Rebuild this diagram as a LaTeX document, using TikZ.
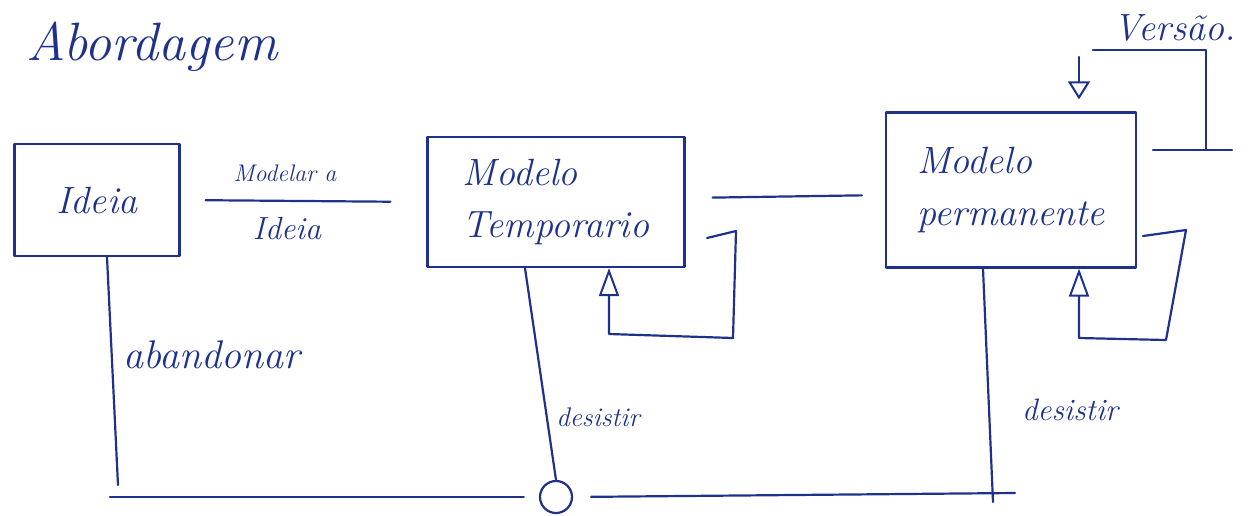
\documentclass[tikz,border=0pt]{standalone}
\usetikzlibrary{arrows.meta}
\definecolor{ink}{RGB}{30,50,140}
\begin{document}
\begin{tikzpicture}[x=1pt,y=-1pt,
  inkline/.style={draw=ink, line width=2.2pt, line cap=round, line join=round},
  box/.style={inkline, rectangle, inner sep=0pt, align=left, text=ink, font=\itshape\fontsize{38}{52}\selectfont},
  lbl/.style={text=ink, inner sep=0pt},
  tipup/.style={-{Triangle[open,length=28pt,width=20pt,line width=2pt]}},
  tipdown/.style={-{Triangle[open,length=18pt,width=22pt,line width=2pt]}}
]
\useasboundingbox (0,0) rectangle (1251,515);

% title
\node[lbl, font=\itshape\fontsize{54}{60}\selectfont] (title) at (152,47) {Abordagem};

% boxes
\node[box, minimum width=165pt, minimum height=112pt] (ideia) at (97,200) {Ideia};
\node[box, minimum width=257pt, minimum height=130pt] (temp) at (556,202) {Modelo\\Temporario};
\node[box, minimum width=250pt, minimum height=155pt] (perm) at (1011,190) {Modelo\\permanente};

% transition Modelar a Ideia
\draw[inkline, shorten <=25pt, shorten >=36pt] (ideia.east) -- (temp.west);
\node[lbl, font=\itshape\fontsize{24}{28}\selectfont] (modelar) at (285,173) {Modelar a};
\node[lbl, font=\itshape\fontsize{32}{36}\selectfont] (ideialbl) at (287,229) {Ideia};

% temp -> perm
\draw[inkline, shorten <=27pt, shorten >=23pt] (temp.east |- 0,198) -- (perm.west |- 0,195);

% temp self loop
\coordinate (tl1) at (707,238);
\coordinate (tl2) at (736,231);
\coordinate (tl3) at (733,338);
\coordinate (tl4) at (609,334);
\draw[inkline, tipup] (tl1) -- (tl2) -- (tl3) -- (tl4) -- (tl4 |- temp.south);

% perm self loop
\coordinate (pl1) at (1143,236);
\coordinate (pl2) at (1186,230);
\coordinate (pl3) at (1166,340);
\coordinate (pl4) at (1079,338);
\draw[inkline, tipup] (pl1) -- (pl2) -- (pl3) -- (pl4) -- (pl4 |- perm.south);

% Versao loop
\coordinate (vb1) at (1153,150);
\coordinate (vb2) at (1232,150);
\coordinate (vc) at (1206,150);
\coordinate (vt) at (1093,50);
\coordinate (va) at (1079,57);
\draw[inkline] (vb1) -- (vb2);
\draw[inkline] (vc) -- (1206,50) -- (vt);
\draw[inkline, tipdown, shorten >=12pt] (va) -- (va |- perm.north);
\node[lbl, font=\itshape\fontsize{38}{42}\selectfont] (versao) at (1175,28) {Versão.};

% bottom
\node[inkline, circle, minimum size=32pt, inner sep=0pt] (end) at (556,497) {};
\coordinate (bl) at (110,497);
\coordinate (br) at (1015,493);
\draw[inkline, shorten >=15pt] (bl) -- (end.west);
\draw[inkline, shorten <=18pt] (end.east) -- (br);

\coordinate (aband) at (118,485);
\draw[inkline] (ideia.south -| 107,0) -- (aband);
\draw[inkline] (temp.south -| 525,0) -- (end.north);
\coordinate (pd) at (993,502);
\draw[inkline] (perm.south -| 983,0) -- (pd);

\node[lbl, font=\itshape\fontsize{40}{44}\selectfont] (abandonar) at (212,355) {abandonar};
\node[lbl, font=\itshape\fontsize{27}{30}\selectfont] (desist1) at (598,417) {desistir};
\node[lbl, font=\itshape\fontsize{31}{34}\selectfont] (desist2) at (1070,410) {desistir};
\end{tikzpicture}
\end{document}
